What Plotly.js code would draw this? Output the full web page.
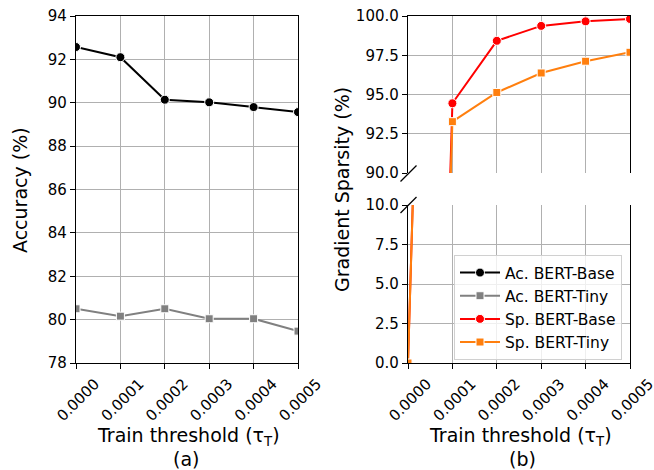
<!DOCTYPE html>
<html>
<head>
<meta charset="utf-8">
<script src="https://cdn.plot.ly/plotly-3.0.1.min.js"></script>
<style>
  html, body { margin: 0; padding: 0; background: #fff; }
  #chart { width: 654px; height: 470px; }
</style>
</head>
<body>
<div id="chart"></div>
<script>
// Train thresholds (tau_T) shared by both panels
const thresholds = [0, 0.0001, 0.0002, 0.0003, 0.0004, 0.0005];
const xTickLabels = ["0.0000", "0.0001", "0.0002", "0.0003", "0.0004", "0.0005"];

// (a) accuracy (%)
const accBase = [92.57, 92.10, 90.14, 90.02, 89.80, 89.57];
const accTiny = [80.50, 80.16, 80.50, 80.04, 80.04, 79.47];

// (b) gradient sparsity (%)
const spBase = [0, 94.44, 98.42, 99.37, 99.66, 99.81];
const spTiny = [0, 93.27, 95.13, 96.37, 97.12, 97.69];

const seriesNames = ["Ac. BERT-Base", "Ac. BERT-Tiny", "Sp. BERT-Base", "Sp. BERT-Tiny"];
const seriesColors = ["#000000", "#808080", "#ff0000", "#ff7f0e"];

const W = 654, H = 470;
const px = v => v / W;
const py = v => (H - v) / H;

const FONT = "DejaVu Sans";
const GRID = "#b0b0b0";
const TITLE_SIZE = 19;

function series(x, y, i, symbol, xa, ya, showlegend) {
  return {
    x: x, y: y, xaxis: xa, yaxis: ya,
    type: "scatter", mode: "lines+markers",
    name: seriesNames[i], showlegend: showlegend,
    line: { color: seriesColors[i], width: 2 },
    marker: { symbol: symbol, size: symbol === "circle" ? 9 : 8, color: seriesColors[i],
              line: { color: "#ffffff", width: 1 } },
    cliponaxis: true
  };
}

const traces = [
  series(thresholds, accBase, 0, "circle", "x", "y", true),
  series(thresholds, accTiny, 1, "square", "x", "y", true),
  // sparsity on the lower (0-10) part of the broken axis
  series(thresholds, spBase, 2, "circle", "x2", "y2", true),
  series(thresholds, spTiny, 3, "square", "x2", "y2", true),
  // sparsity on the upper (90-100) part of the broken axis
  series(thresholds, spBase, 2, "circle", "x3", "y3", false),
  series(thresholds, spTiny, 3, "square", "x3", "y3", false)
];

const tickFont = { family: FONT, size: 15, color: "#000" };

const xBase = {
  range: [0, 0.0005], tickvals: thresholds, ticktext: xTickLabels,
  tickangle: -45, ticklabelshift: 19, ticklabeloverflow: "allow",
  ticks: "outside", ticklen: 5, tickwidth: 1, tickcolor: "#000",
  showgrid: true, gridcolor: GRID, gridwidth: 1, zeroline: false,
  showline: true, linecolor: "#000", linewidth: 1.2,
  tickfont: tickFont, fixedrange: true
};

const yBase = {
  ticks: "outside", ticklen: 5, tickwidth: 1, tickcolor: "#000",
  showgrid: true, gridcolor: GRID, gridwidth: 1, zeroline: false,
  showline: true, linecolor: "#000", linewidth: 1.2, mirror: true,
  tickfont: tickFont, fixedrange: true
};

function label(text, x, y, angle) {
  return { text: text, textangle: angle || 0, xref: "paper", yref: "paper",
           x: px(x), y: py(y), xanchor: "center", yanchor: "middle",
           showarrow: false, font: { family: FONT, size: TITLE_SIZE, color: "#000" } };
}

const layout = {
  width: W, height: H,
  margin: { l: 0, r: 0, t: 0, b: 0 },
  paper_bgcolor: "#fff", plot_bgcolor: "#fff",
  font: { family: FONT, color: "#000" },
  showlegend: true,
  legend: {
    x: px(622), y: py(255), xanchor: "right", yanchor: "top",
    bgcolor: "rgba(255,255,255,0.8)", bordercolor: "#d0d0d0", borderwidth: 1,
    font: { family: FONT, size: 15.5, color: "#000" },
    tracegroupgap: 0, itemwidth: 40
  },
  xaxis: Object.assign({}, xBase, {
    domain: [px(76), px(298)], anchor: "y", mirror: true
  }),
  yaxis: Object.assign({}, yBase, {
    domain: [py(363), py(16)], anchor: "x",
    range: [78, 94], dtick: 2, tick0: 78
  }),
  xaxis2: Object.assign({}, xBase, {
    domain: [px(408), px(630)], anchor: "y2", mirror: false
  }),
  yaxis2: Object.assign({}, yBase, {
    domain: [py(363), py(205)], anchor: "x2",
    range: [0, 10], dtick: 2.5, tick0: 0, tickformat: ".1f"
  }),
  xaxis3: {
    domain: [px(408), px(630)], anchor: "y3", side: "top",
    range: [0, 0.0005], tickvals: thresholds, showticklabels: false, ticks: "",
    showgrid: true, gridcolor: GRID, gridwidth: 1, zeroline: false,
    showline: true, linecolor: "#000", linewidth: 1.2, mirror: false,
    fixedrange: true
  },
  yaxis3: Object.assign({}, yBase, {
    domain: [py(173), py(16)], anchor: "x3",
    range: [90, 100], dtick: 2.5, tick0: 90, tickformat: ".1f"
  }),
  annotations: [
    label("Accuracy (%)", 20, 190, -90),
    label("Gradient Sparsity (%)", 342, 190, -90),
    label("Train threshold (τ<sub>T</sub>)", 188, 436),
    label("(a)", 186, 459),
    label("Train threshold (τ<sub>T</sub>)", 520, 436),
    label("(b)", 522, 459)
  ],
  // diagonal break marks on the left spine of the split axis
  shapes: [
    { type: "line", xref: "paper", yref: "paper",
      x0: px(400.5), y0: py(181.5), x1: px(416.5), y1: py(165.5),
      line: { color: "#000", width: 1.2 } },
    { type: "line", xref: "paper", yref: "paper",
      x0: px(400.5), y0: py(213), x1: px(416.5), y1: py(197),
      line: { color: "#000", width: 1.2 } }
  ]
};

Plotly.newPlot("chart", traces, layout, { displayModeBar: false, staticPlot: true });
</script>
</body>
</html>
